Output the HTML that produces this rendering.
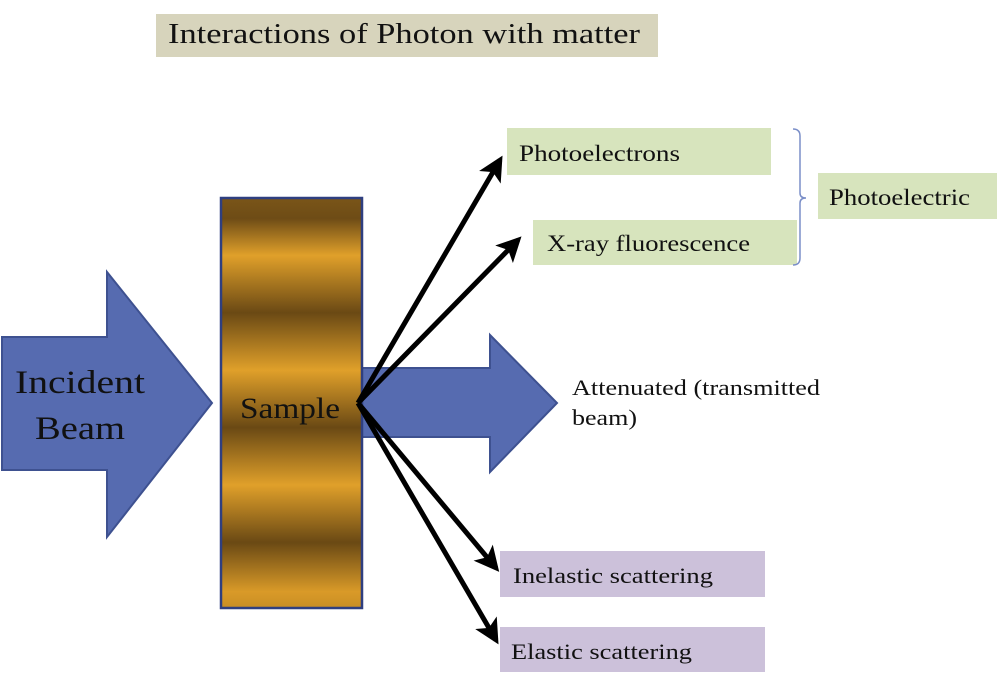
<!DOCTYPE html>
<html><head><style>
body{margin:0;background:#fff;}
svg{display:block;font-family:"Liberation Serif","Times New Roman",serif;}
</style></head><body>
<svg width="1000" height="675" viewBox="0 0 1000 675" xmlns="http://www.w3.org/2000/svg">
<defs>
<linearGradient id="g" x1="0" y1="198" x2="0" y2="608" gradientUnits="userSpaceOnUse">
<stop offset="0" stop-color="#7a5518"/>
<stop offset="0.05" stop-color="#6e4c16"/>
<stop offset="0.14" stop-color="#e0a02a"/>
<stop offset="0.28" stop-color="#6a4914"/>
<stop offset="0.42" stop-color="#e0a02a"/>
<stop offset="0.56" stop-color="#6a4914"/>
<stop offset="0.70" stop-color="#e0a02a"/>
<stop offset="0.84" stop-color="#6a4914"/>
<stop offset="0.96" stop-color="#d99a28"/>
<stop offset="1" stop-color="#c88e25"/>
</linearGradient>
<marker id="ah" markerWidth="5" markerHeight="5" refX="4" refY="2.5" orient="auto" markerUnits="strokeWidth">
<path d="M0,0 L5,2.5 L0,5 L1.2,2.5 Z" fill="#000"/>
</marker>
</defs>
<rect x="156" y="14" width="502" height="43" fill="#d7d4bc"/>
<text x="168" y="43" font-size="28" textLength="472" lengthAdjust="spacingAndGlyphs" fill="#111">Interactions of Photon with matter</text>

<polygon points="2,337 107,337 107,272 212,403 107,537 107,470 2,470" fill="#566bb0" stroke="#3e5190" stroke-width="2"/>
<text x="15" y="393" font-size="33" textLength="130" lengthAdjust="spacingAndGlyphs" fill="#111">Incident</text>
<text x="35" y="439" font-size="33" textLength="90" lengthAdjust="spacingAndGlyphs" fill="#111">Beam</text>

<polygon points="360,368 490,368 490,335 557,403 490,472 490,437 360,437" fill="#566bb0" stroke="#3e5190" stroke-width="2"/>

<rect x="221" y="198" width="141" height="410" fill="url(#g)" stroke="#2f3f80" stroke-width="2.5"/>
<text x="240" y="418" font-size="30" textLength="100" lengthAdjust="spacingAndGlyphs" fill="#111">Sample</text>

<g stroke="#000" stroke-width="5" fill="none" marker-end="url(#ah)">
<line x1="358" y1="403" x2="500" y2="160"/>
<line x1="358" y1="403" x2="518" y2="240"/>
<line x1="358" y1="403" x2="496" y2="568"/>
<line x1="358" y1="403" x2="496" y2="640"/>
</g>

<rect x="507" y="128" width="264" height="47" fill="#d7e4bd"/>
<text x="519" y="161" font-size="23" textLength="161" lengthAdjust="spacingAndGlyphs" fill="#111">Photoelectrons</text>
<rect x="533" y="220" width="264" height="45" fill="#d7e4bd"/>
<text x="547" y="251" font-size="23" textLength="203" lengthAdjust="spacingAndGlyphs" fill="#111">X-ray fluorescence</text>
<path d="M793,129 Q800,129 800,136 L800,193 Q800,198 806,198 Q800,198 800,203 L800,258 Q800,265 793,265" stroke="#7b8fc8" stroke-width="1.5" fill="none"/>
<rect x="818" y="173" width="179" height="46" fill="#d7e4bd"/>
<text x="829" y="205" font-size="23" textLength="141" lengthAdjust="spacingAndGlyphs" fill="#111">Photoelectric</text>

<text x="572" y="395" font-size="22" textLength="248" lengthAdjust="spacingAndGlyphs" fill="#111">Attenuated (transmitted</text>
<text x="572" y="425" font-size="22" textLength="65" lengthAdjust="spacingAndGlyphs" fill="#111">beam)</text>

<rect x="500" y="551" width="265" height="46" fill="#ccc1da"/>
<text x="513" y="583" font-size="22" textLength="200" lengthAdjust="spacingAndGlyphs" fill="#111">Inelastic scattering</text>
<rect x="500" y="627" width="265" height="45" fill="#ccc1da"/>
<text x="511" y="659" font-size="22" textLength="181" lengthAdjust="spacingAndGlyphs" fill="#111">Elastic scattering</text>
</svg>
</body></html>
